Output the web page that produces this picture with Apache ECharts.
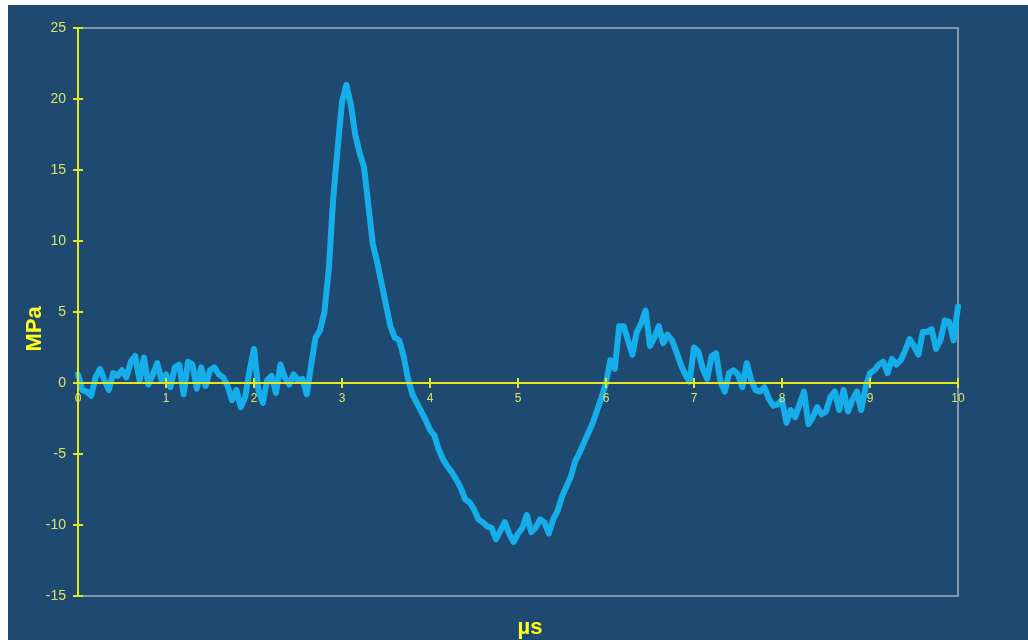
<!DOCTYPE html>
<html>
<head>
<meta charset="utf-8">
<script src="https://cdn.jsdelivr.net/npm/echarts@6/dist/echarts.min.js"></script>
<style>
html,body{margin:0;padding:0;background:#ffffff;width:1028px;height:640px;overflow:hidden;}
#chart{position:absolute;left:8px;top:5px;width:1020px;height:635px;}
</style>
</head>
<body>
<div id="chart"></div>
<script>
// Sampling step of the trace (µs)
const stepUs = 0.05;
// Pressure (MPa) at t = 0, 0.05, ... 10 µs
const pressure0to2 = [0.6,-0.5,-0.6,-0.9,0.4,1.0,0.2,-0.5,0.7,0.5,0.9,0.4,1.5,1.9,0.2,1.8,-0.1,0.6,1.4,0.2,
  0.6,-0.3,1.1,1.3,-0.8,1.5,1.3,-0.4,1.1,-0.2,0.9,1.1,0.6,0.4,-0.2,-1.2,-0.5,-1.7,-1.0,0.9];
const pressure2to4 = [2.4,-0.5,-1.4,0.2,0.5,-0.7,1.3,0.4,-0.1,0.6,0.2,0.3,-0.8,1.3,3.2,3.7,5.0,8.0,13.0,16.5,
  19.8,21.0,19.6,17.5,16.2,15.2,12.5,9.8,8.5,7.0,5.5,4.0,3.2,3.0,1.9,0.3,-0.8,-1.4,-2.0,-2.6];
const pressure4to6 = [-3.3,-3.7,-4.7,-5.4,-5.9,-6.3,-6.8,-7.4,-8.2,-8.4,-8.9,-9.6,-9.8,-10.1,-10.2,-11.0,-10.4,-9.8,-10.6,-11.2,
  -10.6,-10.2,-9.3,-10.5,-10.2,-9.6,-9.8,-10.6,-9.6,-9.0,-8.0,-7.3,-6.6,-5.5,-4.9,-4.2,-3.5,-2.8,-1.9,-1.0];
const pressure6to8 = [0.0,1.6,1.0,4.0,4.0,3.0,2.0,3.6,4.2,5.1,2.6,3.2,4.0,2.8,3.4,3.0,2.2,1.3,0.6,0.1,
  2.5,2.2,1.0,0.3,1.9,2.1,0.1,-0.6,0.7,0.9,0.6,-0.3,1.4,0.2,-0.5,-0.6,-0.3,-1.1,-1.6,-1.5];
const pressure8to10 = [-1.2,-2.8,-1.9,-2.4,-1.5,-0.6,-2.9,-2.4,-1.7,-2.2,-2.0,-1.0,-0.6,-1.9,-0.5,-2.0,-1.2,-0.6,-1.9,-0.3,
  0.7,0.9,1.3,1.5,0.7,1.7,1.3,1.6,2.3,3.1,2.6,2.0,3.6,3.6,3.8,2.4,3.0,4.4,4.3,3.0,5.4];
const pressure = [].concat(pressure0to2, pressure2to4, pressure4to6, pressure6to8, pressure8to10);

const xTicks = [0,1,2,3,4,5,6,7,8,9,10];
const yTicks = [-15,-10,-5,0,5,10,15,20,25];
const yTitle = 'MPa';
const xTitle = 'µs';

const data = pressure.map((v, i) => [+(i * stepUs).toFixed(2), v]);

const axisYellow = '#e4e61e';
const labelYellow = '#dbe46a';
const titleYellow = '#ffff1a';

// plot area geometry (pixels inside the chart div)
const gridLeft = 70, gridTop = 23, gridW = 880, gridH = 568;
const yMin = yTicks[0], yMax = yTicks[yTicks.length - 1];
const zeroFromBottom = gridH * (0 - yMin) / (yMax - yMin);
const zeroFromTop = gridH - zeroFromBottom;

const chart = echarts.init(document.getElementById('chart'), null, {renderer: 'canvas'});

function xAx(position, offset, showLabel) {
  return {
    type: 'value', min: xTicks[0], max: xTicks[xTicks.length - 1], interval: 1, position: position, offset: offset,
    z: 5,
    axisLine: {show: true, onZero: false, lineStyle: {color: axisYellow, width: 2}},
    axisTick: {show: true, inside: false, length: 5, lineStyle: {color: axisYellow, width: 2}},
    axisLabel: {show: showLabel, color: labelYellow, fontSize: 12, fontFamily: 'Liberation Sans, Arial', margin: 10,
      showMinLabel: true, showMaxLabel: true},
    splitLine: {show: false}
  };
}
function yAx(position, offset, showLabel) {
  return {
    type: 'value', min: yMin, max: yMax, interval: 5, position: position, offset: offset,
    z: 5,
    axisLine: {show: true, onZero: false, lineStyle: {color: axisYellow, width: 2}},
    axisTick: {show: true, inside: false, length: 5, lineStyle: {color: axisYellow, width: 2}},
    axisLabel: {show: showLabel, color: labelYellow, fontSize: 14, fontFamily: 'Liberation Sans, Arial', margin: 12,
      showMinLabel: true, showMaxLabel: true},
    splitLine: {show: false}
  };
}

chart.setOption({
  backgroundColor: '#1e4a72',
  animation: false,
  grid: {left: gridLeft, top: gridTop, width: gridW, height: gridH, show: true, borderColor: '#8597ac', borderWidth: 2,
    backgroundColor: 'transparent'},
  xAxis: [xAx('bottom', -zeroFromBottom, true), xAx('top', -zeroFromTop, false)],
  yAxis: [yAx('left', 0, true), yAx('right', -gridW, false)],
  graphic: [
    {type: 'text', x: 27, y: 324, rotation: Math.PI / 2,
      style: {text: yTitle, fill: titleYellow, font: 'bold 22px "Liberation Sans", Arial', textAlign: 'center', textVerticalAlign: 'middle'}},
    {type: 'text', x: 522, y: 623,
      style: {text: xTitle, fill: titleYellow, font: 'bold 22px "Liberation Sans", Arial', textAlign: 'center', textVerticalAlign: 'middle'}}
  ],
  series: [{
    type: 'line', data: data, xAxisIndex: 0, yAxisIndex: 0,
    showSymbol: false, symbol: 'none', smooth: false,
    lineStyle: {color: '#16aeea', width: 6, join: 'round', cap: 'round'},
    z: 1
  }]
});
</script>
</body>
</html>
